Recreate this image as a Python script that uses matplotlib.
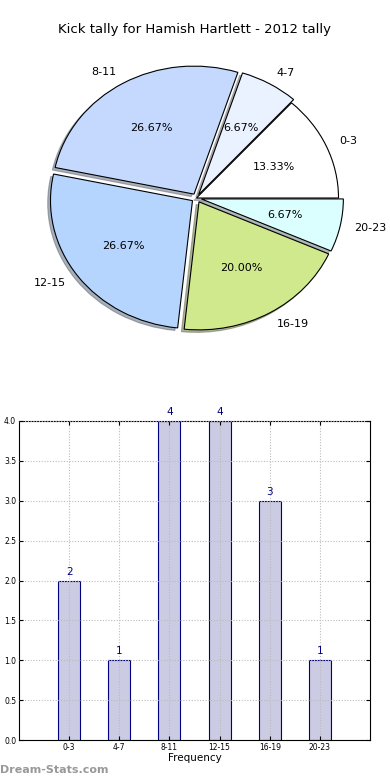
import matplotlib
matplotlib.use("Agg")
import matplotlib.pyplot as plt
import numpy as np

labels = ['0-3', '4-7', '8-11', '12-15', '16-19', '20-23']
counts = [2, 1, 4, 4, 3, 1]
pie_colors = ['#ffffff', '#eaf1ff', '#c5d9ff', '#b5d5ff', '#d0e98c', '#dbffff']
explode = [0, 0.03, 0.035, 0.035, 0.035, 0.035]

fig = plt.figure(figsize=(3.9, 7.8), dpi=100)

# pie on top
ax1 = fig.add_axes([19/390, 1 - 358/780, 355/390, 320/780])
wedges, texts, autotexts = ax1.pie(counts, labels=labels, colors=pie_colors, explode=explode,
                                   autopct='%1.2f%%', startangle=0,
                                   shadow={'ox': -0.014, 'oy': -0.014, 'shade': 0.55},
                                   labeldistance=1.1,
                                   wedgeprops=dict(edgecolor='black', linewidth=0.8),
                                   textprops=dict(fontsize=8))
ax1.set_aspect('auto')
ax1.set_xlim(-1.25, 1.25)
ax1.set_ylim(-1.25, 1.25)
fig.text(0.5, 1 - 30/780, 'Kick tally for Hamish Hartlett - 2012 tally', ha='center', va='center', fontsize=9.5)

# bars below
ax2 = fig.add_axes([19/390, 1 - 740/780, 351/390, 319/780])
x = np.arange(len(labels))
ax2.bar(x, counts, width=0.44, color='#cbcbe3', edgecolor='navy', linewidth=0.8, zorder=2)
for xi, c in zip(x, counts):
    ax2.text(xi, c + 0.05, str(c), ha='center', va='bottom', color='navy', fontsize=7.5)
ax2.set_xlim(-1, 6)
ax2.set_ylim(0, 4)
ax2.set_xticks(x)
ax2.set_xticklabels(labels, fontsize=5.5)
ax2.set_yticks(np.arange(0, 4.01, 0.5))
ax2.set_yticklabels(['%.1f' % v for v in np.arange(0, 4.01, 0.5)], fontsize=5.5)
ax2.grid(True, linestyle=(0, (1, 1.5)), color='#bbbbbb', linewidth=0.8, zorder=0)
ax2.set_axisbelow(False)
ax2.tick_params(length=3, direction='in', top=True, right=True, pad=2)
ax2.set_xlabel('Frequency', fontsize=7.5, labelpad=1)

fig.text(0.0, 1 - 770/780, 'Dream-Stats.com', ha='left', va='center', fontsize=8,
         color='#999999', fontweight='bold')

fig.savefig('out.png', dpi=100)
